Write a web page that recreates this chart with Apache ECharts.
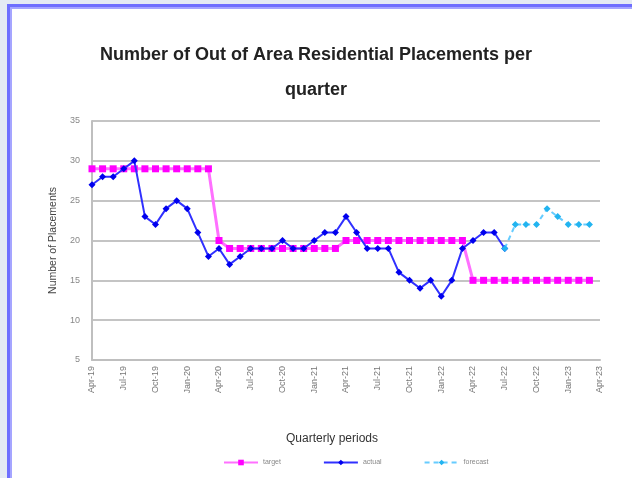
<!DOCTYPE html>
<html>
<head>
<meta charset="utf-8">
<script src="https://cdn.jsdelivr.net/npm/echarts@6/dist/echarts.min.js"></script>
<style>
  html, body { margin: 0; padding: 0; background: #e4eaf4; overflow: hidden; }
  #frame {
    position: absolute; left: 7px; top: 4px; width: 700px; height: 560px;
    background: #ffffff; border-left: 3px solid #6e6eff; border-top: 3px solid #6e6eff;
    box-shadow: inset 2px 2px 0 #a5a5ff;
  }
  #echart { position: absolute; left: 0; top: 0; width: 632px; height: 478px; }
</style>
</head>
<body>
<div id="frame"></div>
<div id="echart"></div>
<script>
// monthly periods, Apr-19 to Apr-23 (labels shown every quarter)
const months = [
  "Apr-19", "May-19", "Jun-19", "Jul-19", "Aug-19", "Sep-19", "Oct-19", "Nov-19", "Dec-19",
  "Jan-20", "Feb-20", "Mar-20", "Apr-20", "May-20", "Jun-20", "Jul-20", "Aug-20", "Sep-20",
  "Oct-20", "Nov-20", "Dec-20", "Jan-21", "Feb-21", "Mar-21", "Apr-21", "May-21", "Jun-21",
  "Jul-21", "Aug-21", "Sep-21", "Oct-21", "Nov-21", "Dec-21", "Jan-22", "Feb-22", "Mar-22",
  "Apr-22", "May-22", "Jun-22", "Jul-22", "Aug-22", "Sep-22", "Oct-22", "Nov-22", "Dec-22",
  "Jan-23", "Feb-23", "Mar-23", "Apr-23"
];

const target = [
  29, 29, 29, 29, 29, 29, 29, 29, 29, 29, 29, 29,
  20, 19, 19, 19, 19, 19, 19, 19, 19, 19, 19, 19,
  20, 20, 20, 20, 20, 20, 20, 20, 20, 20, 20, 20,
  15, 15, 15, 15, 15, 15, 15, 15, 15, 15, 15, 15
];

const actual = [
  27, 28, 28, 29, 30, 23, 22, 24, 25, 24, 21, 18,
  19, 17, 18, 19, 19, 19, 20, 19, 19, 20, 21, 21,
  23, 21, 19, 19, 19, 16, 15, 14, 15, 13, 15, 19,
  20, 21, 21, 19
];

// forecast starts at the last actual month (Jul-22)
const forecastStart = 39;
const forecast = [19, 22, 22, 22, 24, 23, 22, 22, 22];

const yTicks = { min: 5, max: 35, step: 5 };

const pad = (arr, offset) => {
  const out = new Array(offset).fill(null);
  return out.concat(arr);
};

const chart = echarts.init(document.getElementById("echart"));
const font = "'Liberation Sans', Arial, sans-serif";

chart.setOption({
  backgroundColor: "transparent",
  animation: false,
  textStyle: { fontFamily: font },
  title: {
    text: "Number of Out of Area Residential Placements per\nquarter",
    left: "center",
    top: 38,
    padding: [0, 0, 0, 16],
    textStyle: {
      fontSize: 18,
      fontWeight: "bold",
      color: "#222",
      lineHeight: 35,
      fontFamily: font,
    },
  },
  grid: { left: 92, right: 32, top: 121, bottom: 118, containLabel: false },
  legend: {
    bottom: 7,
    left: 218,
    itemWidth: 34,
    itemHeight: 7,
    itemGap: 42,
    textStyle: { fontSize: 7, color: "#888" },
    data: ["target", "actual", "forecast"],
  },
  xAxis: {
    type: "category",
    data: months,
    boundaryGap: false,
    name: "Quarterly periods",
    nameLocation: "middle",
    nameGap: 73,
    nameTextStyle: { fontSize: 12, color: "#333", padding: [0, 28, 0, 0] },
    axisLine: { lineStyle: { color: "#bfbfbf", width: 2 } },
    axisTick: { show: false },
    axisLabel: {
      interval: 2,
      rotate: 90,
      fontSize: 9,
      color: "#777",
      margin: 6,
    },
    splitLine: { show: false },
  },
  yAxis: {
    type: "value",
    min: yTicks.min,
    max: yTicks.max,
    interval: yTicks.step,
    name: "Number of Placements",
    nameLocation: "middle",
    nameGap: 33,
    nameTextStyle: { fontSize: 10.5, color: "#444" },
    axisLine: { show: true, lineStyle: { color: "#bfbfbf", width: 2 } },
    axisTick: { show: false },
    axisLabel: { fontSize: 9, color: "#888", margin: 12 },
    splitLine: { lineStyle: { color: "#c4c4c4", width: 2 } },
  },
  series: [
    {
      name: "target",
      type: "line",
      data: target,
      symbol: "rect",
      symbolSize: 7,
      showAllSymbol: true,
      lineStyle: { color: "#ff70ff", width: 3 },
      itemStyle: { color: "#ff00ff" },
      z: 2,
    },
    {
      name: "actual",
      type: "line",
      data: actual,
      symbol: "diamond",
      symbolSize: 7,
      showAllSymbol: true,
      lineStyle: { color: "#3030ff", width: 2 },
      itemStyle: { color: "#0000ee" },
      z: 3,
    },
    {
      name: "forecast",
      type: "line",
      data: pad(forecast, forecastStart),
      symbol: "diamond",
      symbolSize: 7,
      showAllSymbol: true,
      lineStyle: { color: "#66ccff", width: 2, type: [5, 4] },
      itemStyle: { color: "#22b4f0" },
      z: 4,
    },
  ],
});

window.addEventListener("resize", function () {
  chart.resize();
});
</script>
</body>
</html>
